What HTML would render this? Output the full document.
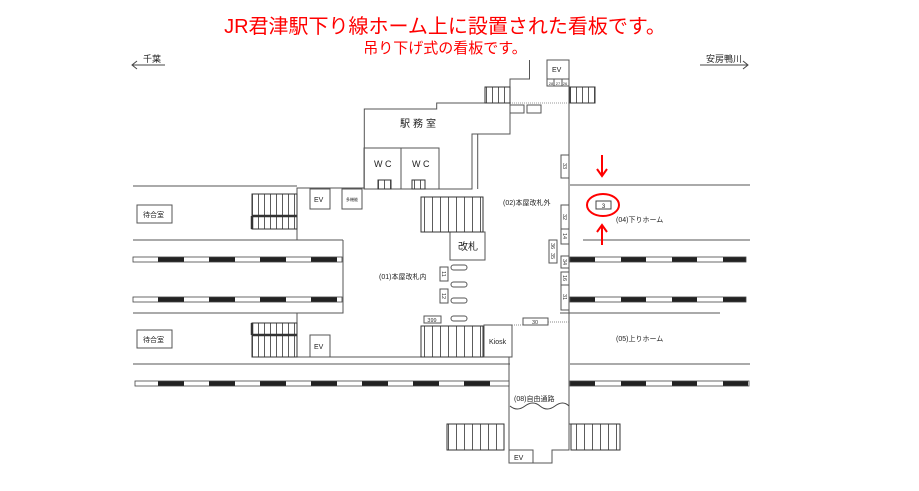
<!DOCTYPE html>
<html><head><meta charset="utf-8"><style>
html,body{margin:0;padding:0;background:#fff;}
svg{display:block;}
text{font-family:"Liberation Sans","Noto Sans CJK JP",sans-serif;}
</style></head><body>
<svg width="919" height="491" viewBox="0 0 919 491" xmlns="http://www.w3.org/2000/svg">
<defs>
<pattern id="trk" x="133" y="0" width="51" height="5" patternUnits="userSpaceOnUse">
<rect x="0" y="0" width="51" height="5" fill="#fff"/>
<rect x="25" y="0" width="26" height="5" fill="#222"/>
</pattern>
<pattern id="trk2" x="570" y="0" width="51" height="5" patternUnits="userSpaceOnUse">
<rect x="0" y="0" width="51" height="5" fill="#222"/>
<rect x="25" y="0" width="26" height="5" fill="#fff"/>
</pattern>
<pattern id="stv" x="0" y="0" width="6" height="10" patternUnits="userSpaceOnUse">
<line x1="0.5" y1="0" x2="0.5" y2="10" stroke="#333" stroke-width="0.8"/>
</pattern>
<pattern id="stv2" x="0" y="0" width="8" height="10" patternUnits="userSpaceOnUse">
<line x1="0.5" y1="0" x2="0.5" y2="10" stroke="#333" stroke-width="0.8"/>
</pattern>
</defs>

<text x="445" y="33" font-size="20" fill="#ff0000" text-anchor="middle">JR君津駅下り線ホーム上に設置された看板です。</text>
<text x="445" y="53" font-size="15" fill="#ff0000" text-anchor="middle">吊り下げ式の看板です。</text>

<g stroke="#444" fill="none" stroke-width="1">
<line x1="132" y1="65" x2="165" y2="65"/><polyline points="137,61 132,65 137,69"/>
<line x1="700" y1="65" x2="748" y2="65"/><polyline points="743,61 748,65 743,69"/>
</g>
<text x="143" y="62" font-size="9" fill="#222">千葉</text>
<text x="706" y="62" font-size="9" fill="#222">安房鴨川</text>

<g stroke="#555" fill="none" stroke-width="1">
<line x1="133" y1="186" x2="297" y2="186"/>
<line x1="133" y1="240" x2="343" y2="240"/>
<line x1="133" y1="313" x2="343" y2="313"/>
<line x1="133" y1="364" x2="510" y2="364"/>
<line x1="570" y1="185" x2="750" y2="185"/>
<line x1="583" y1="240" x2="750" y2="240"/>
<line x1="560" y1="313" x2="720" y2="313"/>
<line x1="570" y1="364" x2="750" y2="364"/>
<polyline points="529.5,60 529.5,79 510,79 510,103 436.7,103 436.7,109 364.3,109 364.3,188 297,188 297,240"/>
<polyline points="510,103 510,134 472,134 472,189 364,189"/>
<line x1="477.7" y1="134" x2="477.7" y2="189"/>
<rect x="364" y="148" width="75" height="41"/>
<line x1="401" y1="148" x2="401" y2="189"/>
<polyline points="343,240 343,313 297,313 297,357 421,357"/>
<line x1="569" y1="60" x2="569" y2="424"/>
<line x1="509" y1="357" x2="509" y2="450"/>
<polyline points="569,424 569,450 552,450 552,463 509,463 509,450"/>
<rect x="509" y="450" width="24" height="13"/>
<line x1="569" y1="424" x2="620" y2="424"/>
<rect x="310" y="189" width="20" height="20"/>
<rect x="342" y="189" width="20" height="20"/>
<rect x="310" y="335" width="20" height="22"/>
<rect x="137" y="205" width="35" height="18"/>
<rect x="137" y="330" width="35" height="18"/>
<rect x="450" y="232" width="35" height="28"/>
<rect x="484" y="325" width="28" height="32"/>
<rect x="547" y="60" width="22" height="19"/>
<rect x="547" y="79" width="7" height="7"/><rect x="554" y="79" width="8" height="7"/><rect x="562" y="79" width="7" height="7"/>
<rect x="510" y="105" width="14" height="8"/><rect x="527" y="105" width="14" height="8"/>
</g>
<line x1="510" y1="103" x2="569" y2="103" stroke="#999" stroke-dasharray="1,1"/>

<g stroke="#333" stroke-width="1">
<rect x="252" y="194" width="45" height="35" fill="url(#stv)"/>
<line x1="252" y1="216" x2="297" y2="216" stroke-width="2.5"/>
<line x1="252" y1="216" x2="252" y2="229" stroke-width="2.5"/>
<rect x="252" y="323" width="45" height="34" fill="url(#stv)"/>
<line x1="252" y1="335" x2="297" y2="335" stroke-width="2.5"/>
<line x1="252" y1="323" x2="252" y2="335" stroke-width="2.5"/>
<rect x="421" y="197" width="62" height="35" fill="url(#stv2)"/>
<rect x="421" y="326" width="62" height="31" fill="url(#stv2)"/>
<rect x="485" y="87" width="25" height="16" fill="url(#stv)"/>
<rect x="570" y="87" width="25" height="16" fill="url(#stv)"/>
<rect x="378" y="180" width="13" height="9" fill="url(#stv)"/>
<rect x="412" y="180" width="13" height="9" fill="url(#stv)"/>
<rect x="447" y="424" width="57" height="26" fill="url(#stv2)"/>
<rect x="571" y="424" width="49" height="26" fill="url(#stv2)"/>
</g>

<g stroke="#444" stroke-width="0.8">
<rect x="133" y="257" width="209" height="5" fill="url(#trk)"/>
<rect x="133" y="297" width="209" height="5" fill="url(#trk)"/>
<rect x="135" y="381" width="374" height="5" fill="url(#trk)"/>
<rect x="570" y="257" width="176" height="5" fill="url(#trk2)"/>
<rect x="570" y="297" width="176" height="5" fill="url(#trk2)"/>
<rect x="570" y="381" width="179" height="5" fill="url(#trk2)"/>
</g>

<path d="M510,406 q7,6 15,0 t15,0 t15,0 t14,0" stroke="#444" fill="none"/>

<g stroke="#555" fill="#fff" stroke-width="1">
<rect x="561" y="155" width="8" height="23"/>
<rect x="561" y="205" width="8" height="24"/>
<rect x="561" y="229" width="8" height="15"/>
<rect x="549" y="240" width="8" height="23"/>
<rect x="561" y="256" width="8" height="12"/>
<rect x="561" y="272" width="8" height="13"/>
<rect x="561" y="285" width="8" height="25"/>
<rect x="523" y="318" width="25" height="7"/>
<rect x="424" y="316" width="17" height="7"/>
<rect x="440" y="267" width="8" height="14"/>
<rect x="440" y="289" width="8" height="14"/>
<rect x="451" y="265" width="16" height="5" rx="2.5"/>
<rect x="451" y="282" width="16" height="5" rx="2.5"/>
<rect x="451" y="298" width="16" height="5" rx="2.5"/>
<rect x="451" y="316" width="16" height="5" rx="2.5"/>
</g>
<line x1="548" y1="322" x2="569" y2="322" stroke="#888" stroke-dasharray="1,1"/>
<line x1="512" y1="325" x2="523" y2="325" stroke="#888" stroke-dasharray="1,1"/>

<g font-size="5.5" fill="#333" text-anchor="middle">
<text x="565" y="168" transform="rotate(90 565 166)">33</text>
<text x="565" y="219" transform="rotate(90 565 217)">32</text>
<text x="565" y="238" transform="rotate(90 565 236)">14</text>
<text x="553" y="248" transform="rotate(90 553 246)">36</text>
<text x="553" y="258" transform="rotate(90 553 256)">35</text>
<text x="565" y="264" transform="rotate(90 565 262)">34</text>
<text x="565" y="280" transform="rotate(90 565 278)">16</text>
<text x="565" y="299" transform="rotate(90 565 297)">31</text>
<text x="444" y="276" transform="rotate(90 444 274)">11</text>
<text x="444" y="298" transform="rotate(90 444 296)">12</text>
<text x="535" y="324">30</text>
<text x="432" y="322">399</text>
<text x="551" y="85" font-size="4">28</text><text x="558" y="85" font-size="4">27</text><text x="565" y="85" font-size="4">26</text>
</g>

<g fill="#222" font-size="7">
<text x="379" y="279">(01)本屋改札内</text>
<text x="503" y="205">(02)本屋改札外</text>
<text x="616" y="222">(04)下りホーム</text>
<text x="616" y="341">(05)上りホーム</text>
<text x="514" y="401">(08)自由通路</text>
<text x="143" y="217">待合室</text>
<text x="143" y="342">待合室</text>
<text x="314" y="202">EV</text>
<text x="314" y="349">EV</text>
<text x="552" y="72">EV</text>
<text x="514" y="460">EV</text>
<text x="489" y="344" font-size="7">Kiosk</text>
<text x="346" y="201" font-size="4">多機能</text>
</g>
<text x="400" y="127" font-size="10" fill="#222" letter-spacing="3">駅務室</text>
<text x="374" y="167" font-size="9" fill="#222">W C</text>
<text x="412" y="167" font-size="9" fill="#222">W C</text>
<text x="458" y="250" font-size="10" fill="#222">改札</text>

<rect x="596" y="201" width="15" height="8" fill="#fff" stroke="#444"/>
<text x="603.5" y="208" font-size="6" text-anchor="middle" fill="#222">3</text>
<ellipse cx="603" cy="205" rx="16" ry="11" fill="none" stroke="#ff0000" stroke-width="2"/>
<g stroke="#ff0000" stroke-width="2" fill="none">
<line x1="602" y1="155" x2="602" y2="176"/><polyline points="597,169 602,176 607,169"/>
<line x1="602" y1="245" x2="602" y2="225"/><polyline points="597,232 602,225 607,232"/>
</g>
</svg>
</body></html>
